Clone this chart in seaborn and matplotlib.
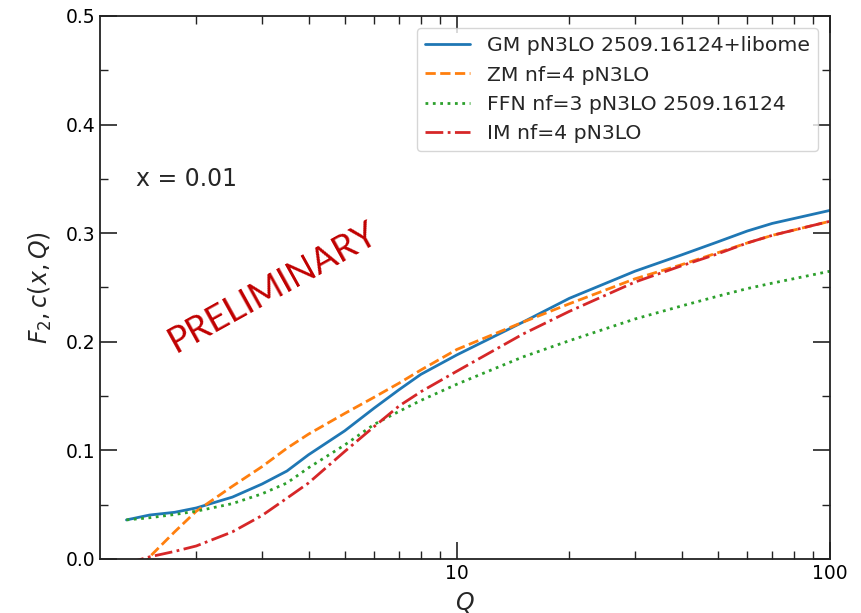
import numpy as np
import pandas as pd
import matplotlib
matplotlib.use("Agg")
import matplotlib.pyplot as plt
import seaborn as sns
from matplotlib.ticker import LogLocator, NullFormatter, MultipleLocator, FixedLocator, FixedFormatter

Q = [1.3, 1.5, 1.75, 2, 2.5, 3, 3.5, 4, 5, 6, 7, 8, 10, 15, 20, 30, 40, 50, 60, 70, 100]

gm = [0.036, 0.0405, 0.043, 0.047, 0.057, 0.069, 0.081, 0.096, 0.118, 0.139, 0.156, 0.170,
      0.188, 0.218, 0.240, 0.265, 0.280, 0.292, 0.302, 0.309, 0.321]
zm = [-0.03, 0.002, 0.025, 0.044, 0.067, 0.085, 0.102, 0.115, 0.134, 0.149, 0.162, 0.174,
      0.193, 0.218, 0.235, 0.258, 0.271, 0.282, 0.291, 0.298, 0.311]
ffn = [0.036, 0.038, 0.041, 0.044, 0.051, 0.060, 0.070, 0.084, 0.105, 0.124, 0.136, 0.146,
       0.161, 0.186, 0.201, 0.221, 0.233, 0.242, 0.249, 0.254, 0.265]
im = [-0.004, 0.002, 0.007, 0.012, 0.025, 0.040, 0.056, 0.070, 0.099, 0.122, 0.141, 0.154,
      0.173, 0.207, 0.228, 0.255, 0.270, 0.281, 0.291, 0.298, 0.311]

labels = ["GM pN3LO 2509.16124+libome", "ZM nf=4 pN3LO",
          "FFN nf=3 pN3LO 2509.16124", "IM nf=4 pN3LO"]
series = [gm, zm, ffn, im]
colors = ["#1f77b4", "#ff7f0e", "#2ca02c", "#d62728"]
styles = ["-", "--", ":", "-."]

sns.set_style("ticks")
plt.rcParams["font.family"] = ["DejaVu Sans"]
plt.rcParams["mathtext.fontset"] = "dejavusans"

fig = plt.figure(figsize=(8.61, 6.13), dpi=100)
ax = fig.add_axes([100/861, 1-559/613, 730/861, 543/613])

for lab, vals, c, ls in zip(labels, series, colors, styles):
    df = pd.DataFrame({"Q": Q, "F": vals})
    sns.lineplot(data=df, x="Q", y="F", ax=ax, color=c, linestyle=ls,
                 linewidth=2.0, label=lab, sort=False, estimator=None)

ax.set_xscale("log")
ax.set_xlim(1.104, 100)
ax.set_ylim(0, 0.5)
ax.xaxis.set_major_locator(FixedLocator([10, 100]))
ax.xaxis.set_major_formatter(FixedFormatter(["10", "100"]))
ax.xaxis.set_minor_locator(LogLocator(base=10, subs=np.arange(2, 10), numticks=20))
ax.xaxis.set_minor_formatter(NullFormatter())
ax.yaxis.set_major_locator(MultipleLocator(0.1))
ax.yaxis.set_minor_locator(MultipleLocator(0.05))
ax.yaxis.set_major_formatter(matplotlib.ticker.FormatStrFormatter("%.1f"))

ax.tick_params(which="both", direction="in", top=True, right=True, labelsize=13.5,
               colors="#222222", labelcolor="black")
ax.tick_params(which="major", length=12, width=1.2)
ax.tick_params(which="minor", length=6, width=1.0)
for s in ax.spines.values():
    s.set_linewidth(1.3)
    s.set_color("#222222")

ax.set_xlabel("$Q$", fontsize=17, labelpad=5)
ax.set_ylabel("$F_2, c(x, Q)$", fontsize=17, labelpad=8)

ax.text(0.05, 0.70, "x = 0.01", transform=ax.transAxes, fontsize=17, va="center", ha="left")
ax.text(0.237, 0.50, "PRELIMINARY", transform=ax.transAxes, fontsize=26, color="#c00000",
        rotation=29, ha="center", va="center", rotation_mode="anchor", family=["Lato", "DejaVu Sans"])

leg = ax.legend(loc="upper right", fontsize=14.7, frameon=True, handlelength=2.2,
                handletextpad=0.8, borderaxespad=0.6, labelspacing=0.5)
leg.get_frame().set_edgecolor("#cccccc")

fig.savefig("out.png", dpi=100)
